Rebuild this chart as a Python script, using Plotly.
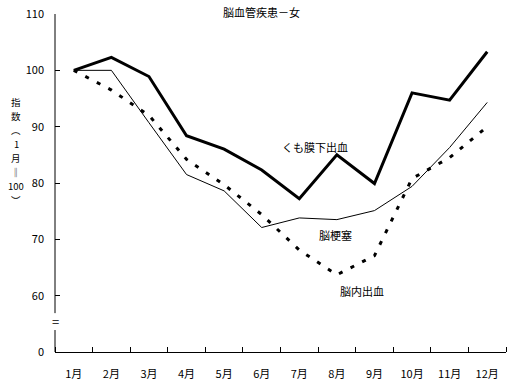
import plotly.graph_objects as go

months = ["1月", "2月", "3月", "4月", "5月", "6月", "7月", "8月", "9月", "10月", "11月", "12月"]
x_pos = list(range(1, 13))
kumomaku = [100.0, 102.3, 98.9, 88.4, 86.0, 82.3, 77.2, 85.0, 79.9, 96.0, 94.7, 103.3]
kosoku = [100.0, 100.0, 90.7, 81.5, 78.6, 72.1, 73.8, 73.5, 75.1, 79.4, 86.3, 94.3]
naishukketsu = [100.0, 96.5, 92.0, 84.2, 79.7, 74.4, 68.1, 63.7, 67.1, 80.8, 84.5, 90.0]
y_ticks = [50, 60, 70, 80, 90, 100, 110]
y_tick_text = ["0", "60", "70", "80", "90", "100", "110"]
y_title_parts = ["指", "数", "︵", "1", "月", "‖", "100", "︶"]

FONT = "Noto Sans CJK JP"
W, H = 511, 385
ML, MR, MT, MB = 55, 5, 14, 33
PH = H - MT - MB

fig = go.Figure()
fig.add_trace(go.Scatter(x=x_pos, y=kosoku, mode="lines",
                         line=dict(color="black", width=1), name="脳梗塞"))
fig.add_trace(go.Scatter(x=x_pos, y=naishukketsu, mode="lines",
                         line=dict(color="black", width=3, dash="4px,9px"), name="脳内出血"))
fig.add_trace(go.Scatter(x=x_pos, y=kumomaku, mode="lines",
                         line=dict(color="black", width=3), name="くも膜下出血"))

# broken y axis line
fig.add_shape(type="line", xref="paper", yref="y", x0=0, x1=0, y0=56.9, y1=110,
              line=dict(color="black", width=1))
fig.add_shape(type="line", xref="paper", yref="y", x0=0, x1=0, y0=50, y1=53.9,
              line=dict(color="black", width=1))
fig.add_annotation(xref="paper", yref="y", x=0, y=55.4, text="=", showarrow=False,
                   font=dict(family=FONT, size=13, color="black"), xanchor="center", yanchor="middle")

# series labels
fig.add_annotation(x=7.42, y=86.4, text="くも膜下出血", showarrow=False,
                   font=dict(family=FONT, size=11, color="black"))
fig.add_annotation(x=7.95, y=70.7, text="脳梗塞", showarrow=False,
                   font=dict(family=FONT, size=11, color="black"))
fig.add_annotation(x=8.67, y=60.8, text="脳内出血", showarrow=False,
                   font=dict(family=FONT, size=11, color="black"))
# title
fig.add_annotation(xref="paper", yref="paper", x=(261 - ML) / (W - ML - MR), y=1 + 2 / PH,
                   text="脳血管疾患－女", showarrow=False, xanchor="center", yanchor="middle",
                   font=dict(family=FONT, size=11, color="black"))
# vertical y-axis title, one glyph per line
y_title_pix = [102, 116, 130, 144, 158, 172, 186, 200]
for part, yp in zip(y_title_parts, y_title_pix):
    fig.add_annotation(xref="paper", yref="paper", x=(16 - ML) / (W - ML - MR),
                       y=(H - MB - yp) / PH, text=part, showarrow=False,
                       xanchor="center", yanchor="middle",
                       font=dict(family=FONT, size=9.5, color="black"))

fig.update_layout(
    width=W, height=H,
    margin=dict(l=ML, r=MR, t=MT, b=MB, autoexpand=False),
    plot_bgcolor="white", paper_bgcolor="white",
    showlegend=False,
    font=dict(family=FONT, size=11, color="black"),
    xaxis=dict(range=[0.5, 12.5], tickvals=x_pos, ticktext=months, ticks="",
               showgrid=False, zeroline=False, showline=True, linecolor="black", linewidth=1,
               ticklabelstandoff=12, fixedrange=True, automargin=False,
               minor=dict(tickvals=[i + 0.5 for i in range(0, 13)], ticks="inside",
                          ticklen=5, tickcolor="black", showgrid=False)),
    yaxis=dict(range=[50, 110], tickvals=y_ticks, ticktext=y_tick_text, ticks="inside",
               ticklen=5, tickcolor="black", showgrid=False, zeroline=False, showline=False,
               ticklabelstandoff=10, fixedrange=True, automargin=False),
)

fig.write_html("out.html", config={"displayModeBar": False},
               post_script="document.body.style.margin='0';document.body.style.overflow='hidden';")
